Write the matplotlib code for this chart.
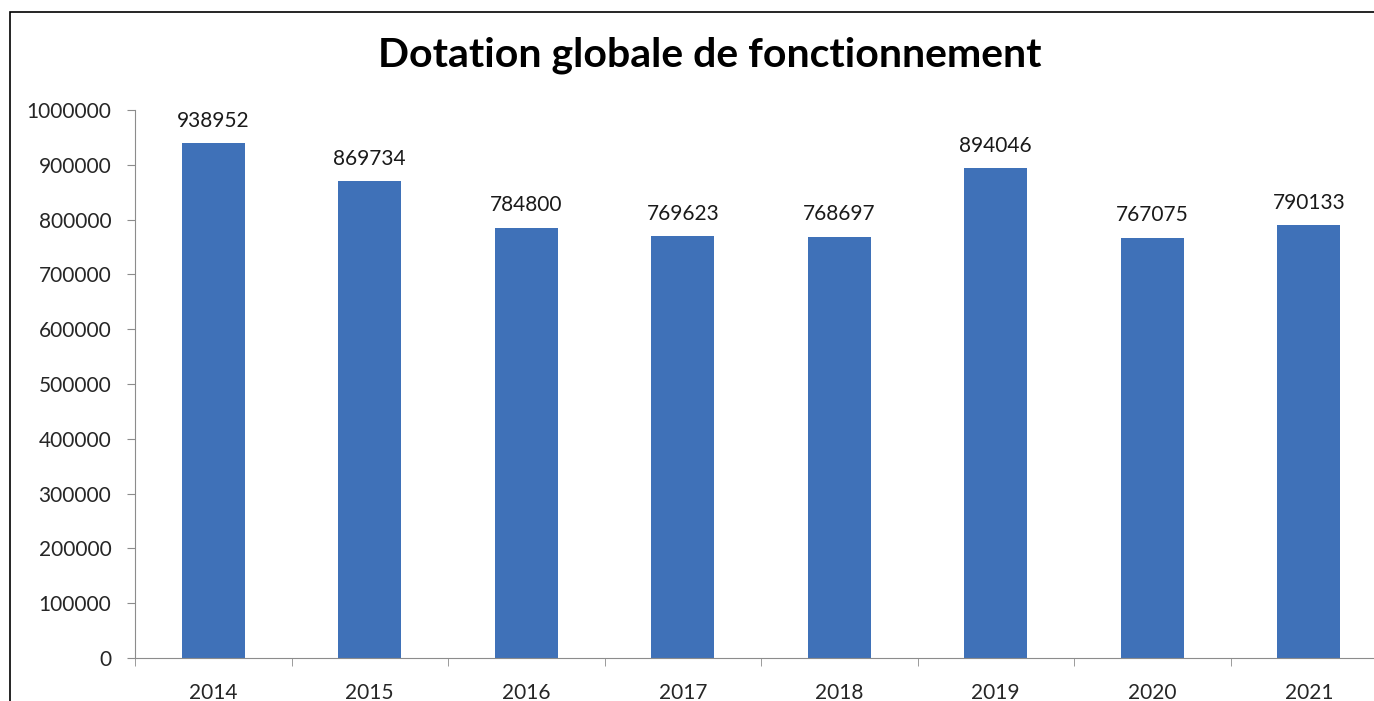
import matplotlib
matplotlib.use("Agg")
import matplotlib.pyplot as plt
from matplotlib.patches import Rectangle

# data
years = ['2014', '2015', '2016', '2017', '2018', '2019', '2020', '2021']
dgf = [938952, 869734, 784800, 769623, 768697, 894046, 767075, 790133]
y_ticks = list(range(0, 1000001, 100000))

plt.rcParams['font.family'] = ['Lato', 'DejaVu Sans']

fig = plt.figure(figsize=(13.74, 7.01), dpi=100)
ax = fig.add_axes([135 / 1374, 1 - 658 / 701, 1252 / 1374, (658 - 110) / 701])

x = range(len(years))
ax.bar(x, dgf, width=0.4, color='#3F71B8', zorder=2)
for xi, v in zip(x, dgf):
    ax.annotate(str(v), (xi, v), xytext=(0, 9), textcoords='offset points',
                ha='center', va='bottom', fontsize=15, color='#1a1a1a')

ax.set_xlim(-0.5, len(years) - 0.5)
ax.set_ylim(0, 1000000)
ax.set_yticks(y_ticks)
ax.set_yticklabels([str(t) for t in y_ticks])
ax.set_xticks(list(x))
ax.set_xticklabels(years)
ax.set_xticks([i - 0.5 for i in range(len(years) + 1)], minor=True)

for s in ['top', 'right']:
    ax.spines[s].set_visible(False)
for s in ['left', 'bottom']:
    ax.spines[s].set_color('#8c8c8c')
ax.tick_params(axis='y', length=6, color='#8c8c8c', labelsize=15, labelcolor='#262626', pad=11)
ax.tick_params(axis='x', which='major', length=0, labelsize=15, labelcolor='#262626', pad=18)
ax.tick_params(axis='x', which='minor', length=6, color='#8c8c8c')

fig.text(710 / 1374, 1 - 55 / 701, 'Dotation globale de fonctionnement',
         ha='center', va='center', fontsize=29.5, fontweight='bold')

# outer chart frame (cropped at right and bottom)
fig.patches.append(Rectangle((10 / 1374, -0.05), 1.2, 1 - 12 / 701 + 0.05,
                             transform=fig.transFigure, fill=False,
                             edgecolor='black', linewidth=1.2))

fig.savefig('out.png', dpi=100)
